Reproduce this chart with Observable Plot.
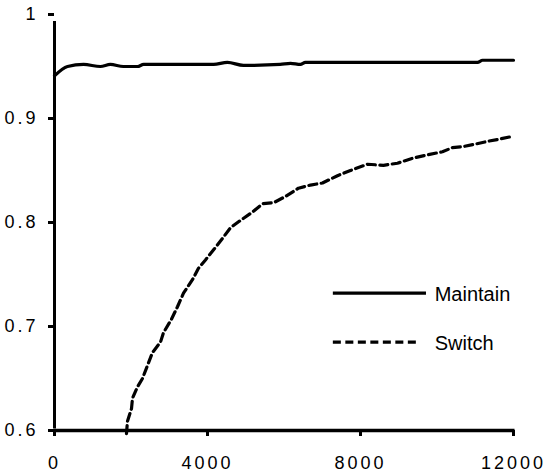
<!DOCTYPE html>
<html>
<head>
<meta charset="utf-8">
<script src="https://cdn.jsdelivr.net/npm/d3@7"></script>
<script src="https://cdn.jsdelivr.net/npm/@observablehq/plot@0.6"></script>
<style>
  html, body { margin: 0; padding: 0; background: #fff; }
  #chart svg g[aria-label="y-axis tick label"] text,
  #chart svg g[aria-label="x-axis tick label"] text { letter-spacing: 3px; }
</style>
</head>
<body>
<div id="chart"></div>
<script>
// ---- data ----
const seriesNames = ["Maintain", "Switch"];
const maintainX = [0, 340, 760, 1200, 1460, 1800, 2170, 2330, 4160, 4520, 4940, 5900, 6170, 6430, 6560, 11060, 11190, 12000];
const maintainY = [0.941, 0.950, 0.952, 0.950, 0.952, 0.950, 0.950, 0.952, 0.952, 0.954, 0.951, 0.952, 0.953, 0.952, 0.954, 0.954, 0.956, 0.956];
const switchX = [1882, 1908, 2013, 2039, 2170, 2300, 2457, 2562, 2771, 2849, 3058, 3215, 3372, 3607, 3764, 3947, 4209, 4418, 4601, 4862, 5176, 5437, 5725, 6038, 6378, 6692, 7006, 7398, 7737, 8182, 8600, 8966, 9384, 9750, 10142, 10404, 10691, 10953, 11319, 11606, 12000];
const switchY = [0.597, 0.609, 0.621, 0.631, 0.642, 0.650, 0.665, 0.675, 0.685, 0.694, 0.707, 0.719, 0.732, 0.745, 0.756, 0.764, 0.776, 0.786, 0.795, 0.802, 0.810, 0.818, 0.819, 0.825, 0.833, 0.836, 0.838, 0.845, 0.850, 0.856, 0.855, 0.857, 0.862, 0.865, 0.868, 0.872, 0.873, 0.875, 0.878, 0.880, 0.883];
const xTicks = [0, 4000, 8000, 12000];
const yTicks = [0.6, 0.7, 0.8, 0.9, 1];

// ---- build tables ----
const maintain = maintainX.map((x, i) => ({x, y: maintainY[i]}));
const switchData = switchX.map((x, i) => ({x, y: switchY[i]}));

// legend layout (in data units)
const legendX1 = 7290, legendX2 = [9725, 9516], legendTextX = 9940;
const legendY = [0.732, 0.685];
const dashes = [null, "8,4.5"];
const legend = seriesNames.map((name, i) => ({name, x1: legendX1, x2: legendX2[i], y: legendY[i], dash: dashes[i]}));

const font = "Arial, 'Liberation Sans', sans-serif";

const chart = Plot.plot({
  width: 546,
  height: 475,
  marginLeft: 54,
  marginRight: 33,
  marginTop: 14,
  marginBottom: 45,
  style: {fontFamily: font, fontSize: "18px", color: "#000", background: "#fff"},
  x: {domain: [0, 12000]},
  y: {domain: [0.6, 1]},
  marks: [
    Plot.axisY({ticks: yTicks, tickFormat: d => `${+d.toFixed(1)}`, tickSize: 6, tickPadding: 10, strokeWidth: 3, fontSize: 18, label: null}),
    Plot.axisX({ticks: xTicks, tickFormat: d => `${d}`, tickSize: 6, tickPadding: 20, strokeWidth: 3, fontSize: 18, label: null}),
    Plot.ruleX([0], {y1: 0.6, y2: 1, stroke: "#000", strokeWidth: 3, insetBottom: -7, insetTop: -1.5}),
    Plot.ruleY([0.6], {x1: 0, x2: 12000, stroke: "#000", strokeWidth: 3.5, insetRight: -1.5}),
    Plot.line(maintain, {x: "x", y: "y", stroke: "#000", strokeWidth: 3.2, curve: "monotone-x"}),
    Plot.line(switchData, {x: "x", y: "y", stroke: "#000", strokeWidth: 3.2, strokeDasharray: "8,4.5", curve: "linear"}),
    Plot.ruleY(legend.filter(d => !d.dash), {y: "y", x1: "x1", x2: "x2", stroke: "#000", strokeWidth: 3.2}),
    Plot.ruleY(legend.filter(d => d.dash), {y: "y", x1: "x1", x2: "x2", stroke: "#000", strokeWidth: 3.2, strokeDasharray: "8,4.5"}),
    Plot.text(legend, {x: legendTextX, y: "y", text: "name", textAnchor: "start", fontSize: 20, fill: "#000", dy: 1})
  ]
});
document.getElementById("chart").appendChild(chart);
</script>
</body>
</html>
